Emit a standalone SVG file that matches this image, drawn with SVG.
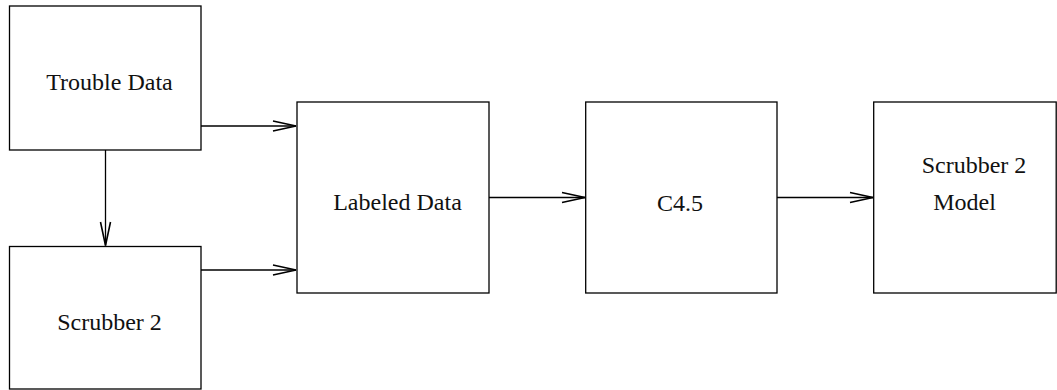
<svg xmlns="http://www.w3.org/2000/svg" width="1057" height="390" viewBox="0 0 1057 390">
<style>
.box{fill:#fff;stroke:#000;stroke-width:1.3}
.lbl{font-family:"Liberation Serif","Times New Roman",serif;font-size:24px;fill:#111;text-anchor:middle}
.edge{fill:none;stroke:#000;stroke-width:1.3}
.head{fill:none;stroke:#000;stroke-width:1.6}
</style>
<rect width="1057" height="390" fill="#fff"/>
<g id="trouble-data"><rect class="box" x="9.5" y="6" width="191.5" height="144"/><text class="lbl" x="109.5" y="90">Trouble Data</text></g>
<g id="scrubber2"><rect class="box" x="9.5" y="246.5" width="191.5" height="142.5"/><text class="lbl" x="109.5" y="330">Scrubber 2</text></g>
<g id="labeled-data"><rect class="box" x="297" y="102" width="192" height="191"/><text class="lbl" x="397.5" y="210">Labeled Data</text></g>
<g id="c45"><rect class="box" x="585.7" y="102" width="191.3" height="191"/><text class="lbl" x="680" y="210.5">C4.5</text></g>
<g id="model"><rect class="box" x="873.7" y="102" width="182.5" height="191"/><text class="lbl" x="974" y="173">Scrubber 2</text><text class="lbl" x="964.5" y="210">Model</text></g>
<g id="connectors">
<line class="edge" x1="201" y1="126" x2="296" y2="126"/><polyline class="head" points="273,121 296,126 273,131"/>
<line class="edge" x1="201" y1="270" x2="296" y2="270"/><polyline class="head" points="273,265 296,270 273,275"/>
<line class="edge" x1="105.5" y1="150" x2="105.5" y2="245.5"/><polyline class="head" points="100.5,222 105.5,245.5 110.5,222"/>
<line class="edge" x1="489" y1="197.5" x2="585" y2="197.5"/><polyline class="head" points="562,192.5 585,197.5 562,202.5"/>
<line class="edge" x1="777" y1="197.5" x2="873" y2="197.5"/><polyline class="head" points="850,192.5 873,197.5 850,202.5"/>
</g>
</svg>
